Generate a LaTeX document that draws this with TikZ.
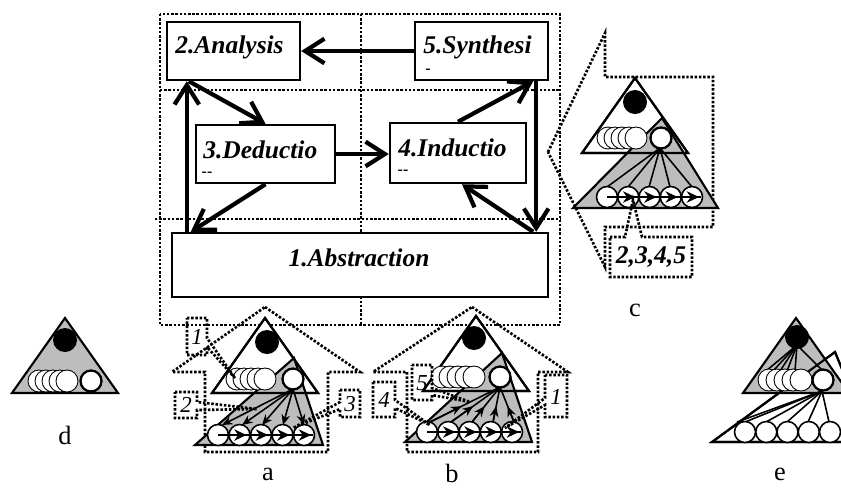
\documentclass[tikz,border=0pt]{standalone}
\usepackage{fontspec}
\setmainfont{Liberation Serif}
\usetikzlibrary{arrows.meta,calc}
\definecolor{shade}{gray}{0.74}
\tikzset{
	dotline/.style={line width=1.5pt, dash pattern=on 1.4pt off 1pt},
	stepbox/.style={draw, line width=1.4pt, fill=white, inner sep=0pt},
	boxtext/.style={inner sep=0pt, font=\fontsize{14.5}{16}\selectfont\bfseries\itshape},
	stub/.style={inner sep=0pt, font=\fontsize{9}{9}\selectfont\bfseries},
	flow/.style={line width=2.4pt, -{Straight Barb[length=11pt,width=14pt]}},
	tag/.style={inner sep=0pt, font=\fontsize{13}{14}\selectfont\itshape},
	caption/.style={inner sep=0pt, font=\fontsize{15}{16}\selectfont},
	edge/.style={line width=1.2pt},
	link/.style={line width=0.9pt},
	small/.style={line width=0.9pt, -{Stealth[length=6pt,width=5pt]}}
}
% stacked circles: front circle at #1, row #2, lone circle at #3, step #4
\newcommand{\attrrow}[4]{%
	\foreach \k in {4,3,...,0}
		\draw[line width=0.5pt, fill=white] ({#1-#4*\k},#2) circle (11);
	\draw[line width=1.3pt, fill=white] (#3,#2) circle (10.5);}
% five circles from #1, step #2, row #3
\newcommand{\itemrow}[3]{%
	\foreach \k in {0,...,4}
		\draw[link, fill=white] ({#1+#2*\k},#3) circle (10.5);}
% arrows running through the row
\newcommand{\rowflow}[3]{%
	\draw[link] (#1,#3) -- ({#1+4*#2+9},#3);
	\foreach \k in {1,...,4}
		\draw[link, -{Stealth[length=7pt,width=6.5pt]}] ({#1+#2*\k-6},#3) -- ({#1+#2*\k+7},#3);}

\begin{document}
\begin{tikzpicture}[x=0.02cm, y=-0.02cm]
	\useasboundingbox (0,0) rectangle (841,488);

	% frame of the five steps
	\draw[dotline] (160,14) rectangle (560,325);
	\draw[dotline] (361,14) -- (361,325);
	\draw[dotline] (160,90) -- (560,90);
	\draw[dotline] (155,219) -- (560,219);

	% zoom callouts
	\draw[dotline] (548,152) -- (605,33) -- (605,77) -- (713,77) -- (713,227) -- (605,227) -- (605,267) -- cycle;
	\draw[dotline] (265,307) -- (360,372) -- (328,372) -- (328,452) -- (205,452) -- (205,372) -- (172,372) -- cycle;
	\draw[dotline] (472,307) -- (568,372) -- (538,372) -- (538,452) -- (407,452) -- (407,372) -- (373,372) -- cycle;

	% steps
	\node[stepbox, minimum width=2.66cm, minimum height=1.16cm] (ana) at (233.5,51) {};
	\node[stepbox, minimum width=2.66cm, minimum height=1.16cm] (syn) at (481.5,51) {};
	\node[stepbox, minimum width=2.78cm, minimum height=1.16cm] (ded) at (265.5,154) {};
	\node[stepbox, minimum width=2.72cm, minimum height=1.2cm] (ind) at (458,153) {};
	\node[stepbox, minimum width=7.52cm, minimum height=1.28cm] (abs) at (360,265) {};

	\node[boxtext, anchor=west] (anatext) at (175,47) {2.Analysis};
	\node[boxtext, anchor=west] (syntext) at (423,47) {5.Synthesi};
	\node[boxtext, anchor=west] (dedtext) at (203,150) {3.Deductio};
	\node[boxtext, anchor=west] (indtext) at (398,148) {4.Inductio};
	\node[boxtext] (abstext) at (359,258) {1.Abstraction};
	\node[stub] (synstub) at (428,71) {-};
	\node[stub] (dedstub) at (207,174) {-{}-};
	\node[stub] (indstub) at (403,172) {-{}-};

	\coordinate (a2) at ($(ana.south west)+(23,0)$);
	\coordinate (s5) at ($(syn.south east)+(-16,0)$);
	\coordinate (s5v) at ($(syn.south east)+(-13,0)$);
	\coordinate (a1r) at ($(abs.north east)+(-16,0)$);
	\coordinate (i4) at ($(ind.south)+(4,0)$);
	\coordinate (a1d) at ($(abs.north west)+(20,0)$);
	\coordinate (a1l) at ($(abs.north west)+(16,0)$);

	\draw[flow] (syn) -- (ana);
	\draw[flow] (a2) -- (ded.north);
	\draw[flow] (ded.east) -- (ded.east -| ind.west);
	\draw[flow] (ind.north) -- (s5);
	\draw[flow] (s5v) -- (s5v |- abs.north);
	\draw[flow] (a1r) -- (i4);
	\draw[flow] (ded.south) -- (a1d);
	\draw[flow] (a1l) -- (a1l |- ana.south);

	% d
	\draw[edge, fill=shade] (65,318) -- (118,393) -- (12,393) -- cycle;
	\fill (65,340) circle (12);
	\attrrow{67}{381}{91}{7}

	% c
	\draw[edge, fill=white] (635,78) -- (688,153) -- (582,153) -- cycle;
	\fill (635,102) circle (12);
	\draw[edge, fill=shade] (662,118) -- (718,208) -- (573,208) -- cycle;
	\draw[edge] (635,78) -- (688,153) -- (582,153) -- cycle;
	\foreach \x in {607,628,649,670,692}
		\draw[link] (660,148) -- (\x,187);
	\itemrow{607}{21.25}{197}
	\rowflow{607}{21.25}{197}
	\attrrow{636}{138}{661}{7}

	% a
	\draw[edge, fill=white] (265,318) -- (318,393) -- (212,393) -- cycle;
	\fill (267,342) circle (12);
	\draw[edge, fill=shade] (294,358) -- (323,445) -- (195,445) -- cycle;
	\draw[edge] (265,318) -- (318,393) -- (212,393) -- cycle;
	\itemrow{218}{21.5}{435}
	\rowflow{218}{21.5}{435}
	\foreach \x in {222,242,262,283,304}
		\draw[small] (293,389) -- (\x,425);
	\attrrow{265}{379}{293}{7}

	% b
	\draw[edge, fill=white] (476,316) -- (529,391) -- (423,391) -- cycle;
	\fill (474,338) circle (12);
	\draw[edge, fill=shade] (502,353) -- (532,442) -- (405,442) -- cycle;
	\draw[edge] (476,316) -- (529,391) -- (423,391) -- cycle;
	\itemrow{427}{21.25}{432}
	\rowflow{427}{21.25}{432}
	\foreach \x in {430,451,472,493,514} {
		\draw[link] (\x,422) -- (500,387);
		\draw[small] (\x,422) -- ($(\x,422)!0.45!(500,387)$);
	}
	\attrrow{474}{377}{500}{8}

	% e
	\draw[edge, fill=white] (835,352) -- (872,442) -- (712,442) -- cycle;
	\draw[edge, fill=shade] (796,318) -- (849,393) -- (743,393) -- cycle;
	\draw[edge] (835,352) -- (872,442) -- (712,442) -- cycle;
	\fill (797,337) circle (12);
	\foreach \x in {766,773,780,787,795,823}
		\draw[link] (797,345) -- (\x,371);
	\foreach \x in {737,745,766,787,808,829}
		\draw[link] (822,391) -- (\x,422);
	\itemrow{745}{21.25}{432}
	\attrrow{801}{380}{823}{8}

	% number tags
	\draw[dotline] (610,237) -- (625,237) -- (633,200) -- (642,237) -- (692,237) -- (692,277) -- (610,277) -- cycle;
	\draw[dotline] (187,318) -- (207,318) -- (207,338) -- (235,378) -- (207,347) -- (207,355) -- (187,355) -- cycle;
	\draw[dotline] (175,392) -- (197,392) -- (197,402) -- (257,409) -- (197,410) -- (197,418) -- (175,418) -- cycle;
	\draw[dotline] (340,390) -- (360,390) -- (360,417) -- (340,417) -- (340,409) -- (293,428) -- (340,402) -- cycle;
	\draw[dotline] (412,365) -- (432,365) -- (432,388) -- (470,402) -- (432,395) -- (432,400) -- (412,400) -- cycle;
	\draw[dotline] (373,382) -- (395,382) -- (395,400) -- (430,425) -- (395,408) -- (395,417) -- (373,417) -- cycle;
	\draw[dotline] (545,375) -- (567,375) -- (567,417) -- (545,417) -- (545,405) -- (505,428) -- (545,398) -- cycle;

	\node[boxtext] (ctag) at (651,257) {2,3,4,5};
	\node[tag] (atag1) at (197,337) {1};
	\node[tag] (atag2) at (186,405) {2};
	\node[tag] (atag3) at (350,404) {3};
	\node[tag] (btag5) at (422,383) {5};
	\node[tag] (btag4) at (384,400) {4};
	\node[tag] (btag1) at (556,397) {1};

	% captions
	\node[caption] (alabel) at (268,474) {a};
	\node[caption] (blabel) at (452,473) {b};
	\node[caption] (clabel) at (635,310) {c};
	\node[caption] (dlabel) at (65,435) {d};
	\node[caption] (elabel) at (780,474) {e};
\end{tikzpicture}
\end{document}
